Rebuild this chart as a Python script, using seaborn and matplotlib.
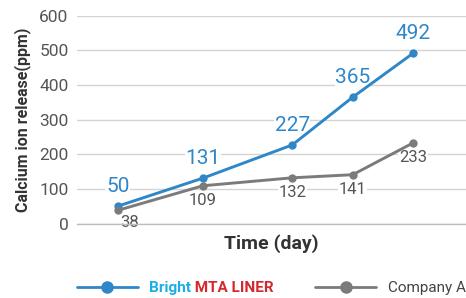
import numpy as np
import pandas as pd
import matplotlib
matplotlib.use('Agg')
import matplotlib.pyplot as plt
import seaborn as sns
from matplotlib.lines import Line2D

# data
time_points = [1.0, 2.0, 3.05, 3.76, 4.47]
bright_values = [50, 131, 227, 365, 492]
company_values = [38, 109, 132, 141, 233]
series_names = ['Bright MTA LINER', 'Company A']
y_ticks = [0, 100, 200, 300, 400, 500, 600]

BLUE = '#2f87c8'
GRAY = '#7b7b7c'

df = pd.DataFrame({
    'time': time_points * 2,
    'value': bright_values + company_values,
    'series': [series_names[0]] * 5 + [series_names[1]] * 5,
})

sns.set_theme(style='whitegrid')
plt.rcParams['font.family'] = ['Roboto', 'DejaVu Sans']

fig = plt.figure(figsize=(4.66, 2.98), dpi=100)
ax = fig.add_axes([0.165, 0.25, 0.835, 0.697])

sns.lineplot(data=df, x='time', y='value', hue='series',
             palette={series_names[0]: BLUE, series_names[1]: GRAY},
             marker='o', markersize=6, markeredgewidth=0, linewidth=2.1,
             legend=False, ax=ax, zorder=3)

ax.set_ylim(0, 600)
ax.set_xlim(0.52, 5.09)
ax.set_yticks(y_ticks)
ax.set_xticks([])
ax.tick_params(axis='y', labelsize=12.5, labelcolor='#555555', pad=6, length=0)
ax.grid(axis='y', color='#d4d4d4', linewidth=1)
ax.grid(axis='x', visible=False)
for s in ['left', 'right', 'top']:
    ax.spines[s].set_visible(False)
ax.spines['bottom'].set_color('#bdbdbd')
ax.spines['bottom'].set_linewidth(1)

ax.set_ylabel('Calcium ion release(ppm)', fontsize=11.5, fontweight='semibold',
              color='#333333', labelpad=6)
ax.set_xlabel('Time (day)', fontsize=14, fontweight='semibold', color='#333333',
              labelpad=8)

box = dict(facecolor='white', edgecolor='none', pad=0.5)
for x, v in zip(time_points, bright_values):
    ax.annotate(str(v), (x, v), xytext=(0, 7), textcoords='offset points',
                ha='center', va='bottom', fontsize=15, color=BLUE, bbox=box, zorder=2)
for x, v in zip(time_points, company_values):
    first = x == time_points[0]
    ax.annotate(str(v), (x, v), xytext=(2 if first else 0, -3 if first else -5),
                textcoords='offset points', ha='left' if first else 'center',
                va='top', fontsize=12, color='#555555', bbox=box, zorder=2)

handles = [Line2D([], [], color=BLUE, marker='o', markersize=8, linewidth=2),
           Line2D([], [], color=GRAY, marker='o', markersize=8, linewidth=2)]
leg = fig.legend(handles, ['Bright', series_names[1]], loc='center left',
                 bbox_to_anchor=(0.165, 0.034), ncol=2, frameon=False,
                 borderpad=0, borderaxespad=0,
                 fontsize=11, handlelength=4.0, handletextpad=0.75, columnspacing=8.1)
t_bright, t_comp = leg.get_texts()
t_bright.set_color('#1aaee6')
t_bright.set_fontweight('bold')
t_comp.set_color('#444444')

fig.canvas.draw()
bb = t_bright.get_window_extent()
W, H = fig.canvas.get_width_height()
fig.text(bb.x1 / W, bb.y0 / H, ' MTA LINER', va='bottom', ha='left',
         fontsize=11, fontweight='bold', color='#d42a2f')

fig.savefig('out.png', dpi=100)
